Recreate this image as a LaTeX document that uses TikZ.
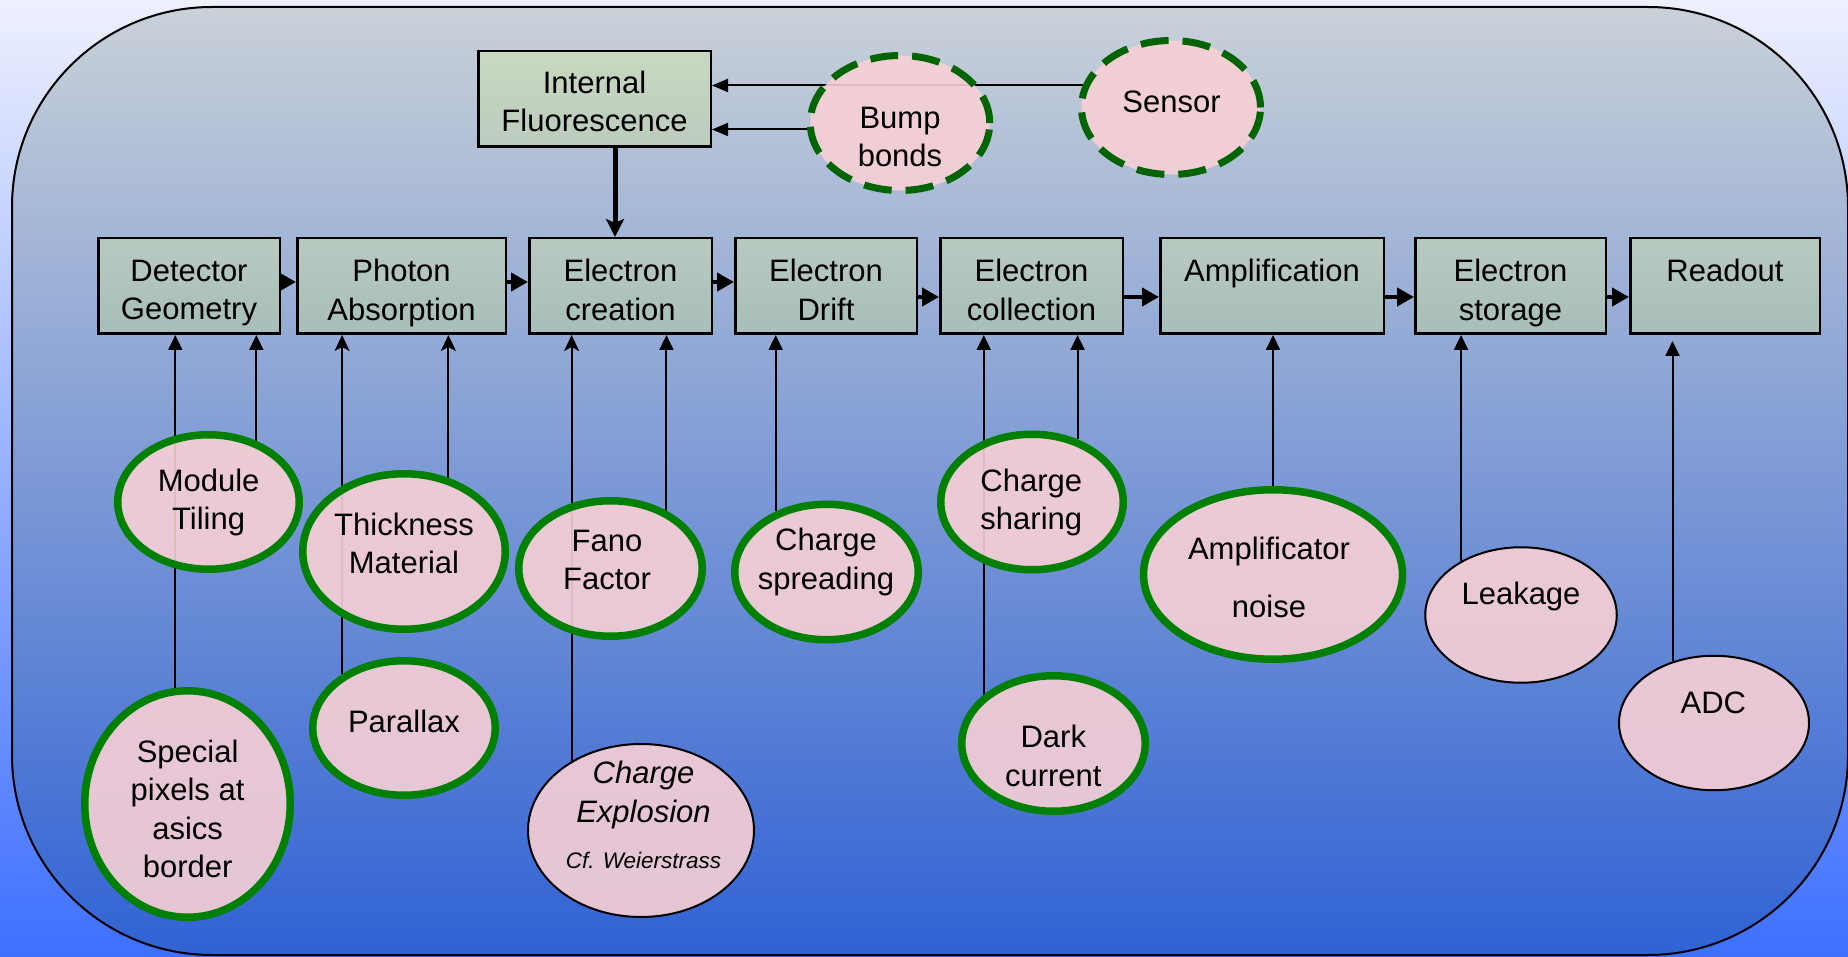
\documentclass[tikz,border=0pt]{standalone}
\usepackage{fontspec}
\setmainfont{Liberation Sans}
\usetikzlibrary{shapes.geometric,arrows.meta}
\definecolor{outerTop}{RGB}{238,240,255}
\definecolor{outerBot}{RGB}{62,112,255}
\definecolor{innerTop}{RGB}{201,209,216}
\definecolor{innerBot}{RGB}{48,98,212}
\definecolor{boxTop}{RGB}{184,201,192}
\definecolor{boxBot}{RGB}{168,190,186}
\definecolor{ifTop}{RGB}{200,216,193}
\definecolor{ifBot}{RGB}{188,204,190}
\definecolor{pinkc}{RGB}{248,208,213}
\definecolor{gGreen}{RGB}{0,128,0}
\definecolor{dGreen}{RGB}{0,100,0}
\newcommand\mainsz{\fontsize{15.5pt}{19.3pt}\selectfont}
\newcommand\smallsz{\fontsize{11.25pt}{13.5pt}\selectfont}
\pgfdeclarelayer{bgl}
\pgfdeclarelayer{lines}
\pgfsetlayers{bgl,lines,main}
\begin{document}
\begin{tikzpicture}[x=0.5pt,y=-0.5pt,
  stepbox/.style={rectangle, draw=black, line width=1.25pt, top color=boxTop, bottom color=boxBot, inner sep=0pt},
  ifbox/.style={stepbox, top color=ifTop, bottom color=ifBot},
  bsz/.style 2 args={minimum width={(#1-2.5)*0.5pt}, minimum height={(#2-2.5)*0.5pt}},
  gell/.style={ellipse, draw=gGreen, line width=3.75pt, fill=pinkc, fill opacity=0.9, inner sep=0pt},
  gsz/.style 2 args={minimum width={(#1-7.5)*0.5pt}, minimum height={(#2-7.5)*0.5pt}},
  dell/.style={ellipse, draw=dGreen, line width=3.5pt, dash pattern=on 14pt off 7pt, fill=pinkc, fill opacity=0.9, inner sep=0pt},
  dsz/.style 2 args={minimum width={(#1-7)*0.5pt}, minimum height={(#2-7)*0.5pt}},
  bell/.style={ellipse, draw=black, line width=1pt, fill=pinkc, fill opacity=0.9, inner sep=0pt},
  tsz/.style 2 args={minimum width={(#1-2)*0.5pt}, minimum height={(#2-2)*0.5pt}},
  txt/.style={align=center, font=\mainsz, inner sep=0pt, execute at begin node={\strut}, execute at end node={\strut}},
  conn/.style={line width=1pt, -{Triangle[length=7.5pt,width=7pt]}},
  connS/.style={line width=1pt, -{Stealth[length=8pt,width=7.5pt,inset=2pt]}},
  barr/.style={line width=2.25pt, -{Triangle[length=8.5pt,width=9pt]}},
  varr/.style={line width=2.5pt, -{Stealth[length=9pt,width=9pt,inset=2pt]}},
  harr/.style={line width=1pt, -{Triangle[length=8pt,width=6.5pt]}}
]
\useasboundingbox (0,0) rectangle (1848,957);
\begin{pgfonlayer}{bgl}
  \fill[top color=outerTop, bottom color=outerBot] (0,0) rectangle (1848,957);
  \draw[line width=1pt, top color=innerTop, bottom color=innerBot, rounded corners=100pt] (12,7) rectangle (1848,955);
\end{pgfonlayer}

% process boxes
\node[ifbox, bsz={235}{98}] (if) at (594.5,99) {};
\node[stepbox, bsz={184}{98}] (dg) at (189,286) {};
\node[stepbox, bsz={211}{98}] (pa) at (401.5,286) {};
\node[stepbox, bsz={185}{98}] (ec) at (620.5,286) {};
\node[stepbox, bsz={184}{98}] (ed) at (826,286) {};
\node[stepbox, bsz={185}{98}] (ecol) at (1031.5,286) {};
\node[stepbox, bsz={226}{98}] (amp) at (1272,286) {};
\node[stepbox, bsz={193}{98}] (es) at (1510.5,286) {};
\node[stepbox, bsz={192}{98}] (ro) at (1725,286) {};

% texts of boxes
\node[txt] (if-t) at ([yshift=-4pt]if.center) {Internal\\Fluorescence};
\node[txt] (dg-t) at ([yshift=-4.75pt]dg.center) {Detector\\Geometry};
\node[txt] (pa-t) at ([yshift=-4.75pt]pa.center) {Photon\\Absorption};
\node[txt] (ec-t) at ([yshift=-4.75pt]ec.center) {Electron\\creation};
\node[txt] (ed-t) at ([yshift=-4.75pt]ed.center) {Electron\\Drift};
\node[txt] (ecol-t) at ([yshift=-4.75pt]ecol.center) {Electron\\collection};
\node[txt] (amp-t) at ([yshift=-4.75pt]amp.center) {Amplification\\\mbox{}};
\node[txt] (es-t) at ([yshift=-4.75pt]es.center) {Electron\\storage};
\node[txt] (ro-t) at ([yshift=-4.75pt]ro.center) {Readout\\\mbox{}};

% effect ellipses
\node[dell, dsz={186.5}{142}] (bb) at (900,123) {};
\node[dell, dsz={186}{141}] (sn) at (1171,107.5) {};
\node[gell, gsz={189}{142}] (mt) at (208.5,502) {};
\node[gell, gsz={210}{163}] (tm) at (404,551.5) {};
\node[gell, gsz={190}{142}] (px) at (404,728) {};
\node[gell, gsz={213}{234}] (sp) at (187.5,804) {};
\node[gell, gsz={191}{143}] (ff) at (610.5,568.5) {};
\node[bell, tsz={228}{175}] (ce) at (641,830.5) {};
\node[gell, gsz={191}{143}] (cs) at (826.5,572) {};
\node[gell, gsz={190}{143}] (csh) at (1032,502) {};
\node[gell, gsz={191}{143}] (dc) at (1053.5,743.5) {};
\node[gell, gsz={266.5}{177}] (an) at (1273,574.5) {};
\node[bell, tsz={193.5}{137.5}] (lk) at (1521,615) {};
\node[bell, tsz={192}{136.5}] (adc) at (1714,723) {};

% texts of ellipses
\node[txt] (bb-t) at (900,142.5) {Bump\\bonds};
\node[txt] (sn-t) at (1171.5,105) {Sensor};
\node[txt] (mt-t) at (208.6,505) {Module\\Tiling};
\node[txt] (tm-t) at (404,549) {Thickness\\Material};
\node[txt] (px-t) at (404,725) {Parallax};
\node[txt] (sp-t) at (187.6,814.5) {Special\\pixels at\\asics\\border};
\node[txt] (ff-t) at (607,565.5) {Fano\\Factor};
\node[txt, font=\mainsz\itshape] (ce-t1) at (643.5,797.5) {Charge\\Explosion};
\node[txt, font=\smallsz\itshape] (ce-t2) at (643.5,863) {Cf. Weierstrass};
\node[txt] (cs-t) at (826,564.5) {Charge\\spreading};
\node[txt] (csh-t) at (1031.3,505) {Charge\\sharing};
\node[txt] (dc-t) at (1053.3,761.5) {Dark\\current};
\node[txt] (an-t) at (1269,583) {Amplificator\\[9.45pt]noise};
\node[txt] (lk-t) at (1521,596.5) {Leakage};
\node[txt] (adc-t) at (1713.3,705.5) {ADC};

% connectors behind the ellipses
\begin{pgfonlayer}{lines}
  \draw[harr] (sn.166) -- (if.east |- sn.166);
  \draw[harr] (bb.184) -- (if.east |- bb.184);
  \draw[conn] (sp.96) -- (dg.south -| sp.96);
  \draw[conn] (mt.52) -- (dg.south -| mt.52);
  \draw[connS] (px.139) -- (pa.south -| px.139);
  \draw[connS] (tm.59) -- (pa.south -| tm.59);
  \draw[connS] (ce.135) -- (ec.south -| ce.135);
  \draw[conn] (ff.46) -- (ec.south -| ff.46);
  \draw[conn] (cs.130) -- (ed.south -| cs.130);
  \draw[conn] (dc.145) -- (ecol.south -| dc.145);
  \draw[conn] (csh.54) -- (ecol.south -| csh.54);
  \draw[conn] (an.north) -- (amp.south -| an.north);
  \draw[conn] (lk.138) -- (es.south -| lk.138);
  \draw[conn, shorten >=3pt] (adc.124) -- (ro.south -| adc.124);
\end{pgfonlayer}

% flow arrows between boxes
\draw[barr] ([yshift=2pt]dg.east) -- ([yshift=2pt]pa.west);
\draw[barr] ([yshift=2pt]pa.east) -- ([yshift=2pt]ec.west);
\draw[barr] ([yshift=2pt]ec.east) -- ([yshift=2pt]ed.west);
\draw[barr] ([yshift=-5.5pt]ed.east) -- ([yshift=-5.5pt]ecol.west);
\draw[barr] ([yshift=-5.5pt]ecol.east) -- ([yshift=-5.5pt]amp.west);
\draw[barr] ([yshift=-5.5pt]amp.east) -- ([yshift=-5.5pt]es.west);
\draw[barr] ([yshift=-5.5pt]es.east) -- ([yshift=-5.5pt]ro.west);
\coordinate (ifx) at ([xshift=10.25pt]if.south);
\draw[varr] (ifx) -- (ifx |- ec.north);
\end{tikzpicture}
\end{document}
